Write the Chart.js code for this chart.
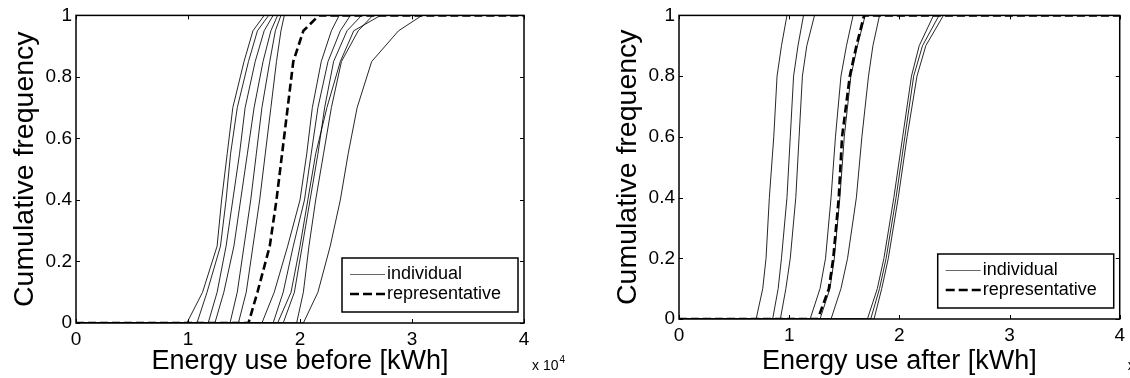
<!DOCTYPE html>
<html>
<head>
<meta charset="utf-8">
<script src="https://cdn.jsdelivr.net/npm/chart.js@4.4.1/dist/chart.umd.min.js"></script>
<style>
  html, body { margin: 0; padding: 0; background: #fff; }
  #wrap { position: relative; width: 1130px; height: 378px; }
  canvas { position: absolute; left: 0; top: 0; }
</style>
</head>
<body>
<div id="wrap">
  <canvas id="beforeChart" width="1130" height="378"></canvas>
  <canvas id="afterChart" width="1130" height="378"></canvas>
</div>
<script>
// cumulative frequency levels each curve was read at
const beforeLevels = [0, 0.1, 0.25, 0.4, 0.55, 0.7, 0.85, 0.95, 1];
const afterLevels = [0, 0.1, 0.2, 0.4, 0.6, 0.8, 0.9, 1];

// energy use before (x 10^4 kWh) at those levels
const beforeA = [0.99, 1.13, 1.26, 1.30, 1.35, 1.40, 1.50, 1.58, 1.68];
const beforeB = [1.08, 1.17, 1.29, 1.34, 1.38, 1.44, 1.54, 1.62, 1.72];
const beforeC = [1.18, 1.26, 1.34, 1.40, 1.46, 1.51, 1.60, 1.68, 1.76];
const beforeD = [1.24, 1.32, 1.41, 1.47, 1.53, 1.59, 1.67, 1.74, 1.80];
const beforeE = [1.375, 1.44, 1.50, 1.56, 1.61, 1.66, 1.73, 1.78, 1.83];
const beforeF = [1.45, 1.52, 1.58, 1.64, 1.69, 1.74, 1.79, 1.83, 1.86];
const beforeG = [1.66, 1.77, 1.89, 2.00, 2.06, 2.11, 2.19, 2.28, 2.35];
const beforeH = [1.76, 1.85, 1.94, 2.04, 2.10, 2.16, 2.25, 2.36, 2.45];
const beforeI = [1.85, 1.95, 2.02, 2.09, 2.16, 2.22, 2.30, 2.42, 2.55];
const beforeJ = [1.97, 2.03, 2.08, 2.14, 2.21, 2.28, 2.37, 2.52, 2.65];
const beforeK = [1.80, 1.92, 2.00, 2.07, 2.14, 2.24, 2.36, 2.48, 2.72];
const beforeL = [2.03, 2.16, 2.27, 2.36, 2.43, 2.51, 2.64, 2.88, 3.09];
const beforeRep = [1.54, 1.62, 1.73, 1.79, 1.84, 1.89, 1.94, 2.03, 2.17];

// energy use after (x 10^4 kWh)
const afterA = [0.70, 0.76, 0.79, 0.82, 0.86, 0.89, 0.93, 0.98];
const afterB = [0.85, 0.90, 0.93, 0.98, 1.01, 1.04, 1.08, 1.13];
const afterC = [0.92, 0.97, 1.01, 1.06, 1.09, 1.12, 1.16, 1.23];
const afterD = [1.19, 1.28, 1.33, 1.38, 1.42, 1.47, 1.52, 1.58];
const afterE = [1.28, 1.37, 1.41, 1.46, 1.50, 1.56, 1.62, 1.69];
const afterF = [1.38, 1.47, 1.53, 1.61, 1.66, 1.72, 1.76, 1.82];
const afterG = [1.71, 1.80, 1.86, 1.95, 2.03, 2.11, 2.18, 2.31];
const afterH = [1.74, 1.82, 1.88, 1.97, 2.05, 2.13, 2.21, 2.36];
const afterI = [1.77, 1.84, 1.90, 1.99, 2.07, 2.16, 2.24, 2.40];
const afterRep = [1.26, 1.36, 1.40, 1.45, 1.48, 1.55, 1.61, 1.68];

const xTicks = [0, 1, 2, 3, 4];
const yTicks = [0, 0.2, 0.4, 0.6, 0.8, 1];
const legendLabels = ['individual', 'representative'];

const FONT = "'Liberation Sans', Arial, sans-serif";

function toPoints(xs, levels) {
  // curve runs flat along 0 before the first value and along 1 after the last
  const pts = [{ x: xTicks[0], y: 0 }];
  xs.forEach((v, i) => pts.push({ x: v, y: levels[i] }));
  pts.push({ x: xTicks[xTicks.length - 1], y: 1 });
  return pts;
}

function individual(xs, levels) {
  return { data: toPoints(xs, levels), borderColor: 'rgba(0,0,0,0.85)', borderWidth: 1, pointRadius: 0 };
}

function representative(xs, levels) {
  return { data: toPoints(xs, levels), borderColor: '#000', borderWidth: 2.6, borderDash: [8, 4], pointRadius: 0 };
}

// MATLAB-ish box, inward ticks, legend and the "x 10^4" multiplier
const matlabAxes = {
  id: 'matlabAxes',
  afterDraw(chart) {
    const { ctx, chartArea: a, scales: { x, y } } = chart;
    ctx.save();
    ctx.strokeStyle = '#000';
    ctx.lineWidth = 1.5;
    ctx.strokeRect(a.left, a.top, a.right - a.left, a.bottom - a.top);
    ctx.lineWidth = 1;
    ctx.beginPath();
    xTicks.forEach(t => {
      const px = Math.round(x.getPixelForValue(t)) + 0.5;
      ctx.moveTo(px, a.bottom); ctx.lineTo(px, a.bottom - 4);
      ctx.moveTo(px, a.top); ctx.lineTo(px, a.top + 4);
    });
    yTicks.forEach(t => {
      const py = Math.round(y.getPixelForValue(t)) + 0.5;
      ctx.moveTo(a.left, py); ctx.lineTo(a.left + 4, py);
      ctx.moveTo(a.right, py); ctx.lineTo(a.right - 4, py);
    });
    ctx.stroke();

    // legend, lower right inside the axes
    const bw = 176, bh = 54;
    const bx = a.right - 6 - bw, by = a.bottom - 11 - bh;
    ctx.fillStyle = '#fff';
    ctx.fillRect(bx, by, bw, bh);
    ctx.lineWidth = 1.5;
    ctx.strokeRect(bx, by, bw, bh);
    const rows = [by + 16, by + 36];
    ctx.beginPath();
    ctx.strokeStyle = 'rgba(0,0,0,0.6)';
    ctx.lineWidth = 1;
    ctx.moveTo(bx + 8, rows[0] + 0.5); ctx.lineTo(bx + 43, rows[0] + 0.5);
    ctx.stroke();
    ctx.beginPath();
    ctx.strokeStyle = '#000';
    ctx.lineWidth = 2.6;
    ctx.setLineDash([9, 4]);
    ctx.moveTo(bx + 8, rows[1]); ctx.lineTo(bx + 43, rows[1]);
    ctx.stroke();
    ctx.setLineDash([]);
    ctx.fillStyle = '#000';
    ctx.font = '18px ' + FONT;
    ctx.textBaseline = 'middle';
    ctx.textAlign = 'left';
    ctx.fillText(legendLabels[0], bx + 45, rows[0]);
    ctx.fillText(legendLabels[1], bx + 45, rows[1]);

    // axis multiplier
    ctx.textBaseline = 'alphabetic';
    ctx.font = '14px ' + FONT;
    ctx.fillText('x 10', a.right + 8, 370);
    const w = ctx.measureText('x 10').width;
    ctx.font = '10px ' + FONT;
    ctx.fillText('4', a.right + 9 + w, 363);
    ctx.restore();
  }
};

function makeChart(id, datasets, xTitle, pad, xHeight) {
  return new Chart(document.getElementById(id), {
    type: 'line',
    data: { datasets },
    plugins: [matlabAxes],
    options: {
      responsive: false,
      animation: false,
      layout: { padding: pad },
      elements: { line: { tension: 0 } },
      plugins: { legend: { display: false }, tooltip: { enabled: false } },
      scales: {
        x: {
          type: 'linear', min: 0, max: 4,
          afterFit: s => { s.height = xHeight; },
          afterBuildTicks: s => { s.ticks = xTicks.map(v => ({ value: v })); },
          grid: { display: false, drawTicks: false },
          border: { display: false },
          ticks: { color: '#000', padding: 5, maxRotation: 0, font: { family: FONT, size: 19 }, callback: v => String(v) },
          title: { display: true, text: xTitle, color: '#000', padding: { top: 0, bottom: 0 }, font: { family: FONT, size: 27 } }
        },
        y: {
          min: 0, max: 1,
          afterFit: s => { s.width = 76; },
          afterBuildTicks: s => { s.ticks = yTicks.map(v => ({ value: v })); },
          grid: { display: false, drawTicks: false },
          border: { display: false },
          ticks: { color: '#000', padding: 4, font: { family: FONT, size: 19 }, callback: v => (v === 0 || v === 1) ? String(v) : v.toFixed(1) },
          title: { display: true, text: 'Cumulative frequency', color: '#000', padding: { top: 8, bottom: 0 }, font: { family: FONT, size: 28.5 } }
        }
      }
    }
  });
}

const beforeSets = [beforeA, beforeB, beforeC, beforeD, beforeE, beforeF, beforeG, beforeH, beforeI, beforeJ, beforeK, beforeL]
  .map(xs => individual(xs, beforeLevels));
beforeSets.push(representative(beforeRep, beforeLevels));

const afterSets = [afterA, afterB, afterC, afterD, afterE, afterF, afterG, afterH, afterI]
  .map(xs => individual(xs, afterLevels));
afterSets.push(representative(afterRep, afterLevels));

makeChart('beforeChart', beforeSets, 'Energy use before [kWh]', { left: 0, right: 606, top: 15, bottom: 0 }, 55);
makeChart('afterChart', afterSets, 'Energy use after [kWh]', { left: 603, right: 6, top: 13, bottom: 0 }, 59);
</script>
</body>
</html>
